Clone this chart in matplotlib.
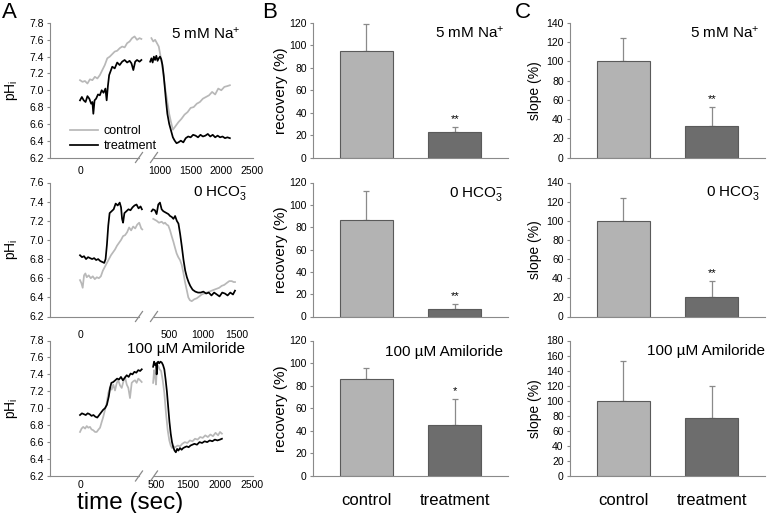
import matplotlib
matplotlib.use('Agg')
import matplotlib.pyplot as plt
from matplotlib.lines import Line2D
from matplotlib.ticker import FormatStrFormatter
import numpy as np

plt.rcParams['font.family'] = ['Liberation Sans', 'DejaVu Sans']
plt.rcParams['mathtext.fontset'] = 'custom'
plt.rcParams['mathtext.rm'] = 'Liberation Sans'
plt.rcParams['mathtext.it'] = 'Liberation Sans:italic'
plt.rcParams['mathtext.bf'] = 'Liberation Sans:bold'
plt.rcParams['mathtext.default'] = 'regular'

# ---------------- data ----------------
conditions = ['5 mM Na$^{+}$', '0 HCO$_3^{-}$', '100 µM Amiloride']

# panel A, row 1 (5 mM Na+): time (s), pHi ; "a" = before break, "b" = after
ctrl1_t_a = [0, 40, 80, 120, 160, 200, 240, 280, 320, 360, 400, 440, 480, 520, 560, 600, 640, 680, 720, 760, 800, 840, 880, 920, 960, 990]
ctrl1_a = [7.12, 7.10, 7.11, 7.08, 7.13, 7.12, 7.16, 7.14, 7.18, 7.24, 7.30, 7.38, 7.40, 7.43, 7.46, 7.47, 7.50, 7.52, 7.51, 7.56, 7.58, 7.62, 7.64, 7.60, 7.62, 7.61]
treat1_t_a = [0, 30, 60, 90, 120, 150, 180, 200, 215, 235, 260, 290, 320, 350, 380, 410, 430, 450, 470, 490, 520, 560, 600, 640, 680, 720, 760, 800, 830, 860, 890, 920, 960, 990]
treat1_a = [6.88, 6.92, 6.88, 6.86, 6.93, 6.90, 6.84, 6.86, 6.72, 6.88, 6.90, 6.95, 6.94, 7.00, 6.97, 7.02, 6.88, 7.05, 7.18, 7.22, 7.28, 7.26, 7.33, 7.30, 7.34, 7.36, 7.33, 7.35, 7.32, 7.24, 7.34, 7.36, 7.34, 7.36]
ctrl1_t_b = [860, 890, 920, 950, 980, 1000, 1030, 1060, 1090, 1120, 1150, 1180, 1210, 1250, 1300, 1350, 1400, 1450, 1500, 1550, 1600, 1650, 1700, 1750, 1800, 1850, 1900, 1950, 2000, 2050, 2100, 2140]
ctrl1_b = [7.62, 7.58, 7.60, 7.56, 7.52, 7.44, 7.32, 7.16, 7.00, 6.86, 6.72, 6.62, 6.53, 6.57, 6.62, 6.66, 6.71, 6.74, 6.79, 6.80, 6.84, 6.86, 6.90, 6.92, 6.94, 6.98, 6.95, 7.02, 7.00, 7.04, 7.05, 7.06]
treat1_t_b = [840, 860, 880, 900, 920, 940, 960, 980, 1000, 1020, 1040, 1060, 1080, 1100, 1120, 1150, 1180, 1210, 1240, 1270, 1300, 1340, 1380, 1420, 1460, 1500, 1540, 1580, 1620, 1660, 1700, 1740, 1780, 1820, 1860, 1900, 1940, 1980, 2020, 2060, 2100, 2140]
treat1_b = [7.34, 7.38, 7.33, 7.40, 7.36, 7.41, 7.35, 7.38, 7.40, 7.37, 7.30, 7.18, 7.02, 6.86, 6.72, 6.60, 6.52, 6.44, 6.40, 6.37, 6.38, 6.40, 6.38, 6.43, 6.45, 6.44, 6.47, 6.46, 6.44, 6.47, 6.45, 6.46, 6.48, 6.45, 6.47, 6.44, 6.46, 6.44, 6.45, 6.43, 6.44, 6.43]

# row 2 (0 HCO3-)
ctrl2_t_a = [0, 20, 40, 60, 80, 100, 130, 160, 190, 220, 250, 280, 310, 340, 370, 400, 430, 460, 490, 520, 550, 580, 610, 640, 670, 700, 730, 760, 790, 820, 850, 880, 910, 925]
ctrl2_a = [6.58, 6.55, 6.50, 6.63, 6.65, 6.61, 6.63, 6.60, 6.62, 6.59, 6.61, 6.60, 6.62, 6.68, 6.72, 6.76, 6.80, 6.84, 6.87, 6.90, 6.94, 6.97, 7.00, 7.04, 7.05, 7.08, 7.13, 7.10, 7.14, 7.12, 7.16, 7.18, 7.12, 7.11]
treat2_t_a = [0, 30, 60, 90, 120, 150, 180, 210, 240, 270, 300, 330, 360, 380, 400, 420, 440, 470, 500, 530, 560, 590, 610, 625, 640, 660, 690, 720, 750, 780, 810, 840, 870, 900, 920]
treat2_a = [6.84, 6.82, 6.83, 6.80, 6.82, 6.81, 6.80, 6.81, 6.79, 6.80, 6.78, 6.77, 6.76, 6.80, 6.95, 7.15, 7.28, 7.30, 7.32, 7.38, 7.36, 7.39, 7.34, 7.22, 7.18, 7.28, 7.30, 7.32, 7.31, 7.34, 7.36, 7.37, 7.33, 7.35, 7.32]
ctrl2_t_b = [265, 290, 316, 350, 391, 420, 440, 465, 489, 515, 539, 565, 588, 612, 637, 663, 688, 712, 737, 762, 786, 810, 837, 875, 911, 950, 985, 1020, 1059, 1100, 1134, 1170, 1208, 1245, 1282, 1320, 1357, 1395, 1431, 1460, 1480]
ctrl2_b = [7.22, 7.21, 7.20, 7.18, 7.19, 7.17, 7.18, 7.16, 7.15, 7.10, 7.04, 6.98, 6.92, 6.86, 6.82, 6.79, 6.74, 6.66, 6.56, 6.48, 6.40, 6.37, 6.36, 6.38, 6.39, 6.41, 6.43, 6.44, 6.45, 6.46, 6.47, 6.48, 6.49, 6.50, 6.52, 6.53, 6.55, 6.57, 6.57, 6.56, 6.56]
treat2_t_b = [240, 260, 290, 315, 340, 365, 390, 415, 440, 465, 490, 515, 540, 565, 590, 615, 640, 665, 690, 715, 740, 765, 790, 815, 850, 890, 930, 970, 1010, 1050, 1090, 1130, 1170, 1210, 1250, 1290, 1330, 1370, 1410, 1450, 1480]
treat2_b = [7.30, 7.32, 7.31, 7.27, 7.37, 7.39, 7.32, 7.30, 7.29, 7.28, 7.27, 7.25, 7.24, 7.22, 7.25, 7.20, 7.17, 7.06, 6.93, 6.79, 6.68, 6.61, 6.56, 6.52, 6.48, 6.46, 6.45, 6.45, 6.46, 6.44, 6.45, 6.42, 6.45, 6.43, 6.41, 6.45, 6.44, 6.42, 6.45, 6.43, 6.47]

# row 3 (100 uM amiloride)
ctrl3_t_a = [0, 25, 50, 80, 105, 130, 156, 180, 208, 235, 261, 290, 313, 340, 364, 390, 417, 442, 470, 495, 520, 547, 575, 598, 625, 652, 680, 703, 730, 755, 781, 808, 835, 859, 885, 911, 940, 964]
ctrl3_a = [6.72, 6.76, 6.78, 6.76, 6.79, 6.77, 6.78, 6.75, 6.74, 6.72, 6.72, 6.75, 6.77, 6.84, 6.90, 6.98, 7.06, 7.18, 7.25, 7.22, 7.28, 7.21, 7.30, 7.33, 7.27, 7.24, 7.32, 7.37, 7.28, 7.24, 7.12, 7.30, 7.32, 7.33, 7.30, 7.35, 7.33, 7.31]
treat3_t_a = [0, 30, 60, 90, 120, 150, 180, 210, 240, 270, 300, 330, 360, 390, 420, 450, 470, 490, 520, 550, 580, 610, 640, 670, 700, 730, 760, 790, 820, 850, 880, 910, 940, 965]
treat3_a = [6.92, 6.94, 6.93, 6.92, 6.94, 6.93, 6.91, 6.92, 6.90, 6.89, 6.92, 6.95, 6.98, 7.00, 7.04, 7.14, 7.24, 7.30, 7.31, 7.33, 7.35, 7.34, 7.37, 7.33, 7.36, 7.39, 7.37, 7.41, 7.40, 7.43, 7.42, 7.45, 7.44, 7.46]
ctrl3_t_b = [955, 970, 985, 1000, 1015, 1035, 1055, 1080, 1105, 1130, 1156, 1183, 1208, 1230, 1250, 1275, 1300, 1340, 1375, 1410, 1450, 1490, 1530, 1570, 1610, 1650, 1690, 1730, 1770, 1810, 1850, 1890, 1930, 1970, 2000, 2030]
ctrl3_b = [7.30, 7.45, 7.38, 7.28, 7.48, 7.50, 7.46, 7.44, 7.33, 7.18, 6.94, 6.74, 6.62, 6.56, 6.53, 6.55, 6.54, 6.56, 6.55, 6.58, 6.60, 6.59, 6.62, 6.61, 6.64, 6.63, 6.66, 6.65, 6.68, 6.66, 6.69, 6.67, 6.71, 6.68, 6.72, 6.70]
treat3_t_b = [955, 970, 985, 1000, 1010, 1020, 1035, 1050, 1070, 1090, 1110, 1130, 1150, 1170, 1190, 1210, 1230, 1250, 1270, 1290, 1310, 1330, 1350, 1375, 1400, 1425, 1450, 1480, 1510, 1540, 1570, 1600, 1640, 1680, 1720, 1760, 1800, 1840, 1880, 1920, 1960, 2000, 2030]
treat3_b = [7.49, 7.55, 7.51, 7.53, 7.40, 7.54, 7.55, 7.53, 7.55, 7.54, 7.51, 7.46, 7.34, 7.20, 7.02, 6.84, 6.70, 6.60, 6.54, 6.50, 6.48, 6.52, 6.50, 6.53, 6.51, 6.53, 6.54, 6.55, 6.54, 6.56, 6.57, 6.58, 6.57, 6.60, 6.59, 6.61, 6.60, 6.62, 6.61, 6.63, 6.62, 6.63, 6.64]

traces = [
    (ctrl1_t_a, ctrl1_a, treat1_t_a, treat1_a, ctrl1_t_b, ctrl1_b, treat1_t_b, treat1_b),
    (ctrl2_t_a, ctrl2_a, treat2_t_a, treat2_a, ctrl2_t_b, ctrl2_b, treat2_t_b, treat2_b),
    (ctrl3_t_a, ctrl3_a, treat3_t_a, treat3_a, ctrl3_t_b, ctrl3_b, treat3_t_b, treat3_b),
]
ph_ylim = [(6.2, 7.8), (6.2, 7.6), (6.2, 7.8)]
right_ticks = [[1000, 1500, 2000, 2500], [500, 1000, 1500], [1000, 1500, 2000, 2500]]
right_ticklabels = [['1000', '1500', '2000', '2500'], ['500', '1000', '1500'], ['500', '1500', '2000', '2500']]

# panel B: recovery (%)
groups = ['control', 'treatment']
recovery_ctrl = [95, 86, 86]
recovery_ctrl_err = [24, 26, 9.5]
recovery_treat = [23, 7, 45]
recovery_treat_err = [4.5, 4, 23]
recovery_stars = ['**', '**', '*']
recovery_ymax = [120, 120, 120]

# panel C: slope (%)
slope_ctrl = [100, 100, 100]
slope_ctrl_err = [24.5, 23.5, 53]
slope_treat = [32.5, 20, 77]
slope_treat_err = [20.5, 17, 42]
slope_stars = ['**', '**', '']
slope_ymax = [140, 140, 180]

# ---------------- layout ----------------
W, H = 768, 513
LIGHT = '#b3b3b3'
DARK = '#6d6d6d'
CTRL_LINE = '#b8b8b8'
SPINE = '#8a8a8a'
TICK_FS = 7.5
LW = 1.25

row_top = [23, 182.5, 340.5]
row_bot = [157.5, 316.5, 476]
left_scale = [0.062, 0.0673, 0.064]              # px per second before the break
right_ref = [(1000, 160, 0.0613), (1000, 202.7, 0.0673), (1500, 188, 0.064)]
xtick_pad = [6, 10, 3]


def rect(x0, y0, x1, y1):
    return [x0 / W, 1 - y1 / H, (x1 - x0) / W, (y1 - y0) / H]


def fpos(x, y):
    return x / W, 1 - y / H


fig = plt.figure(figsize=(W / 100, H / 100), dpi=100)

for i in range(3):
    top, bot = row_top[i], row_bot[i]
    ct_a, c_a, tt_a, t_a, ct_b, c_b, tt_b, t_b = traces[i]

    # ---- A: broken time axis ----
    sL = left_scale[i]
    axL = fig.add_axes(rect(50, top, 145, bot))
    axR = fig.add_axes(rect(147, top, 253, bot))
    xl0, xl1 = (50 - 80) / sL, (145 - 80) / sL
    tr, xr, sR = right_ref[i]
    xr0, xr1 = tr + (147 - xr) / sR, tr + (253 - xr) / sR
    axL.set_xlim(xl0, xl1)
    axR.set_xlim(xr0, xr1)

    l1, = axL.plot(ct_a, c_a, color=CTRL_LINE, lw=LW, label='control')
    l2, = axL.plot(tt_a, t_a, color='black', lw=LW, label='treatment')
    axR.plot(ct_b, c_b, color=CTRL_LINE, lw=LW)
    axR.plot(tt_b, t_b, color='black', lw=LW)

    for ax in (axL, axR):
        ax.set_ylim(*ph_ylim[i])
        ax.patch.set_visible(False)
        ax.spines['top'].set_visible(False)
        ax.spines['right'].set_visible(False)
        ax.spines['bottom'].set_color(SPINE)
        ax.tick_params(axis='x', length=0, labelsize=TICK_FS, pad=xtick_pad[i])
    axL.spines['left'].set_color(SPINE)
    axR.spines['left'].set_visible(False)
    axL.spines['bottom'].set_bounds(xl0, (139 - 80) / sL)
    axR.spines['bottom'].set_bounds(tr + (154 - xr) / sR, xr1)

    axL.set_yticks(np.round(np.arange(ph_ylim[i][0], ph_ylim[i][1] + 0.01, 0.2), 1))
    axL.yaxis.set_major_formatter(FormatStrFormatter('%.1f'))
    axL.tick_params(axis='y', length=2.5, color=SPINE, labelsize=TICK_FS, pad=2)
    axR.set_yticks([])
    axL.set_xticks([0])
    axR.set_xticks(right_ticks[i])
    axR.set_xticklabels(right_ticklabels[i])

    # break marks
    for bx in (139, 154):
        x0, y0 = fpos(bx - 3.5, bot + 5)
        x1, y1 = fpos(bx + 3.5, bot - 5)
        fig.add_artist(Line2D([x0, x1], [y0, y1], color=SPINE, lw=0.9))

    fig.text(*fpos(11, (top + bot) / 2), 'pH$_{\\mathrm{i}}$', rotation=90,
             ha='center', va='center', fontsize=10)

    if i == 0:
        axL.legend(handles=[l1, l2], loc='upper left', bbox_to_anchor=fpos(70, 125),
                   bbox_transform=fig.transFigure, frameon=False, fontsize=9,
                   handlelength=2.2, handletextpad=0.5, labelspacing=0.25,
                   borderpad=0, borderaxespad=0)

    # ---- B and C: bar charts ----
    bar_sets = [
        (313, recovery_ctrl, recovery_ctrl_err, recovery_treat, recovery_treat_err,
         recovery_stars, recovery_ymax, 'recovery (%)', 281, 11),
        (570, slope_ctrl, slope_ctrl_err, slope_treat, slope_treat_err,
         slope_stars, slope_ymax, 'slope (%)', 535, 10),
    ]
    for (x0px, vc, ec, vt, et, stars, ymax, ylab, ylab_x, ylab_fs) in bar_sets:
        ax = fig.add_axes(rect(x0px, top, x0px + 195, bot))
        vals = [vc[i], vt[i]]
        errs = [ec[i], et[i]]
        ax.bar([0, 1], vals, width=0.6, color=[LIGHT, DARK], edgecolor='#5a5a5a', linewidth=0.8, zorder=2)
        ax.errorbar([0, 1], vals, yerr=[[0, 0], errs], fmt='none', ecolor='#8a8a8a',
                    elinewidth=0.9, capsize=2.5, capthick=0.9, zorder=1)
        if stars[i]:
            ax.annotate(stars[i], (1, vals[1] + errs[1]), xytext=(0, 2), textcoords='offset points',
                        ha='center', va='bottom', fontsize=8)
        ax.set_xlim(-0.6, 1.6)
        ax.set_ylim(0, ymax[i])
        ax.set_yticks(range(0, ymax[i] + 1, 20))
        ax.spines['top'].set_visible(False)
        ax.spines['right'].set_visible(False)
        ax.spines['left'].set_color(SPINE)
        ax.spines['bottom'].set_color(SPINE)
        ax.tick_params(axis='y', length=2.5, color=SPINE, labelsize=TICK_FS, pad=2)
        ax.set_xticks([0, 1])
        if i == 2:
            ax.set_xticklabels(groups, fontsize=12)
            ax.tick_params(axis='x', length=0, pad=12)
        else:
            ax.set_xticklabels(['', ''])
            ax.tick_params(axis='x', length=0)
        fig.text(*fpos(ylab_x, (top + bot) / 2), ylab, rotation=90,
                 ha='center', va='center', fontsize=ylab_fs)

# condition labels
cond_pos = [
    [(241, 34), (247, 193), (245, 349)],
    [(505, 33), (503, 194), (503, 352)],
    [(760, 33), (760, 193), (765, 351)],
]
for panel in cond_pos:
    for i, (x, y) in enumerate(panel):
        fig.text(*fpos(x, y), conditions[i], ha='right', va='center', fontsize=11)

fig.text(*fpos(130, 503.5), 'time (sec)', ha='center', va='center', fontsize=17.5)

for letter, x in zip('ABC', [2, 262, 515]):
    fig.text(*fpos(x, 12), letter, ha='left', va='center', fontsize=16)

fig.savefig('out.png', dpi=100)
